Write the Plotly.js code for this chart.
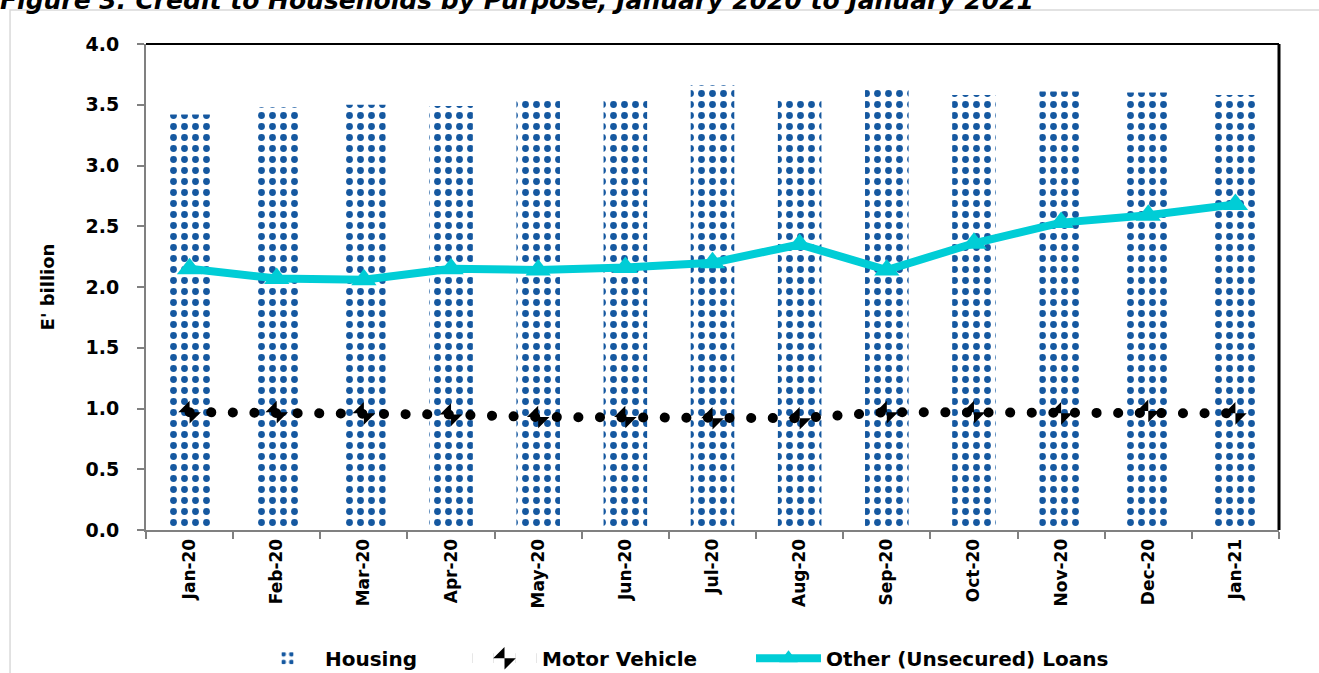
<!DOCTYPE html>
<html>
<head>
<meta charset="utf-8">
<script src="https://cdn.plot.ly/plotly-3.0.1.min.js"></script>
<style>
  html, body { margin: 0; padding: 0; background: #fff; }
  #chart { width: 1319px; height: 673px; }
  .scatterlayer .js-line, .legend .js-line { stroke-linecap: round; }
</style>
</head>
<body>
<div id="chart"></div>
<script>
const months = ["Jan-20","Feb-20","Mar-20","Apr-20","May-20","Jun-20","Jul-20","Aug-20","Sep-20","Oct-20","Nov-20","Dec-20","Jan-21"];
const housing = [3.42, 3.48, 3.50, 3.49, 3.55, 3.56, 3.66, 3.55, 3.63, 3.58, 3.61, 3.60, 3.58];
const motorVehicle = [0.97, 0.97, 0.96, 0.95, 0.93, 0.93, 0.92, 0.92, 0.97, 0.97, 0.96, 0.98, 0.96];
const otherLoans = [2.15, 2.07, 2.06, 2.15, 2.14, 2.16, 2.20, 2.35, 2.14, 2.36, 2.53, 2.59, 2.68];
const yTicks = [0, 0.5, 1.0, 1.5, 2.0, 2.5, 3.0, 3.5, 4.0];

const FONT = "DejaVu Sans, Verdana, sans-serif";

const traces = [
  {
    type: "bar", name: "Housing", x: months, y: housing, width: 0.5, legend: "legend",
    marker: {
      color: "#1558a0",
      line: { width: 0 },
      pattern: { shape: ".", fgcolor: "#1558a0", bgcolor: "#ffffff", size: 11, solidity: 0.3 }
    }
  },
  {
    type: "scatter", mode: "lines+markers", name: "Motor Vehicle", x: months, y: motorVehicle, legend: "legend2",
    line: { color: "#000000", width: 10, dash: "0.1px,21.5px" },
    marker: { symbol: "bowtie", angle: 45, size: 16, color: "#000000" }
  },
  {
    type: "scatter", mode: "lines+markers", name: "Other (Unsecured) Loans", x: months, y: otherLoans, legend: "legend3",
    line: { color: "#00cdd6", width: 8 },
    marker: { symbol: "triangle-up", size: 22, color: "#00cdd6" }
  }
];

function legendAt(px) {
  return {
    orientation: "h", x: px / 1319, xanchor: "left", xref: "container",
    y: 0.022, yanchor: "middle", yref: "container",
    itemwidth: 65, bgcolor: "rgba(0,0,0,0)",
    font: { family: FONT, size: 20, weight: 700 }
  };
}

const layout = {
  width: 1319, height: 673,
  margin: { l: 146, r: 40, t: 44, b: 143, autoexpand: false },
  paper_bgcolor: "#ffffff", plot_bgcolor: "#ffffff",
  font: { family: FONT, size: 17, color: "#000000", weight: 700 },
  title: {
    text: "Figure 3: Credit to Households by Purpose, January 2020 to January 2021",
    x: 0, xanchor: "left", xref: "container",
    y: 1, yanchor: "middle", yref: "container",
    font: { family: FONT, size: 25, weight: 700, style: "italic", color: "#000000" }
  },
  showlegend: true,
  legend: legendAt(250),
  legend2: legendAt(467),
  legend3: legendAt(751),
  xaxis: {
    type: "category", categoryorder: "array", categoryarray: months, automargin: false,
    range: [-0.5, 12.5],
    tickangle: -90, ticks: "outside", tickson: "boundaries", ticklen: 7, tickwidth: 2, tickcolor: "#808080",
    showline: true, linecolor: "#808080", linewidth: 2, showgrid: false, zeroline: false,
    tickfont: { family: FONT, size: 17, weight: 700 }
  },
  yaxis: {
    range: [0, 4], tickvals: yTicks, tickformat: ".1f", automargin: false,
    ticks: "outside", ticklen: 7, tickwidth: 2, tickcolor: "#808080", ticklabelstandoff: 14,
    showline: true, linecolor: "#808080", linewidth: 2, showgrid: false, zeroline: false,
    tickfont: { family: FONT, size: 19, weight: 700 },
    title: { text: "E' billion", standoff: 26, font: { family: FONT, size: 18, weight: 700 } }
  },
  shapes: [
    { type: "line", xref: "paper", yref: "paper", x0: 0, x1: 1, y0: 1, y1: 1, line: { color: "#000000", width: 2 } },
    { type: "line", xref: "paper", yref: "paper", x0: 1, x1: 1, y0: 0, y1: 1, line: { color: "#000000", width: 3 } },
    { type: "rect", xref: "paper", yref: "paper", x0: -0.12, x1: 1.2, y0: -0.6, y1: 1.0700, line: { color: "#d9d9d9", width: 1.5 }, layer: "below" }
  ],
  bargap: 0.5
};

Plotly.newPlot("chart", traces, layout, { displayModeBar: false, staticPlot: true });
</script>
</body>
</html>
